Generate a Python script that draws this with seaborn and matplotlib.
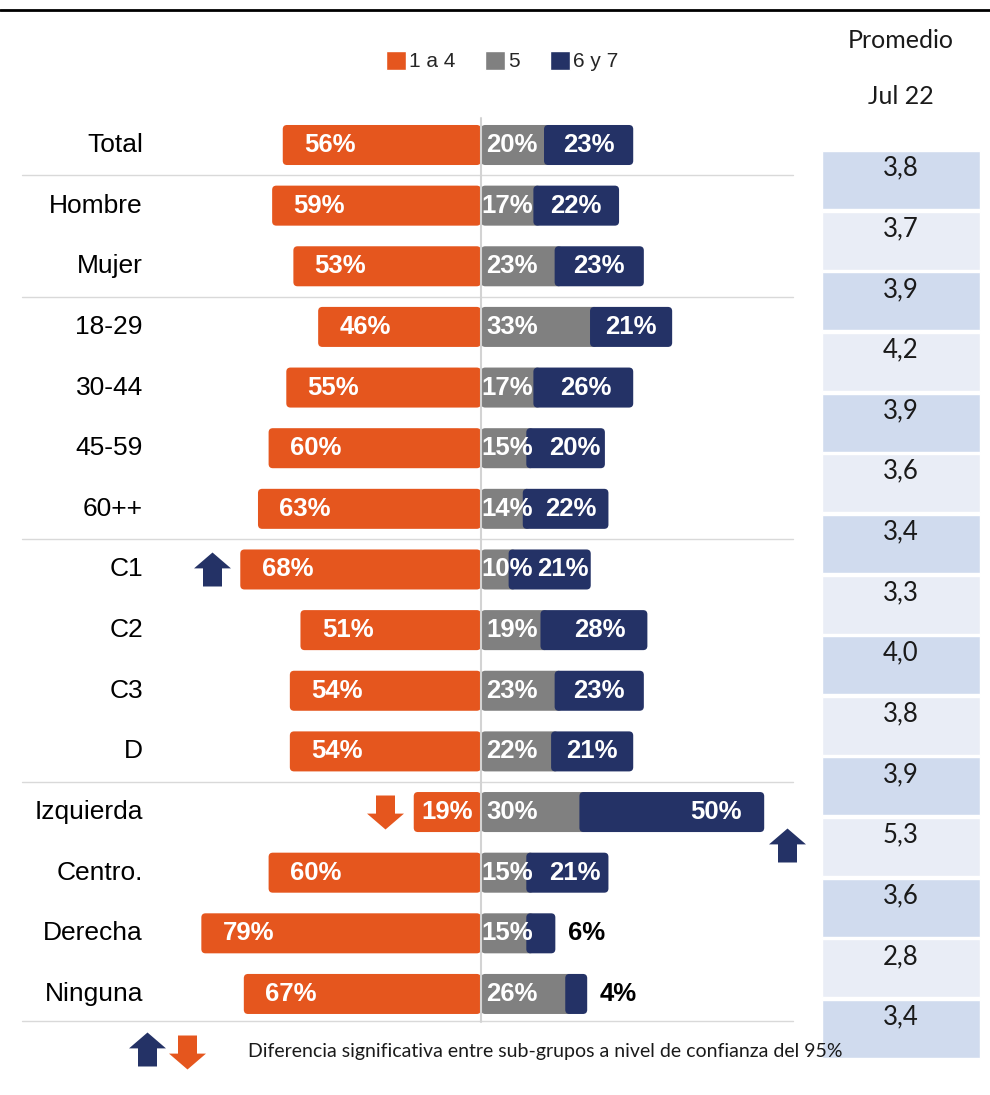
import matplotlib
matplotlib.use("Agg")
import matplotlib.pyplot as plt
from matplotlib.patches import FancyBboxPatch, Patch
from matplotlib.lines import Line2D
from matplotlib.path import Path
import pandas as pd
import seaborn as sns

# data
grupos = ["Total", "Hombre", "Mujer", "18-29", "30-44", "45-59", "60++",
          "C1", "C2", "C3", "D", "Izquierda", "Centro.", "Derecha", "Ninguna"]
nota_1a4 = [56, 59, 53, 46, 55, 60, 63, 68, 51, 54, 54, 19, 60, 79, 67]
nota_5 = [20, 17, 23, 33, 17, 15, 14, 10, 19, 23, 22, 30, 15, 15, 26]
nota_6y7 = [23, 22, 23, 21, 26, 20, 22, 21, 28, 23, 21, 50, 21, 6, 4]
promedio = ["3,8", "3,7", "3,9", "4,2", "3,9", "3,6", "3,4", "3,3",
            "4,0", "3,8", "3,9", "5,3", "3,6", "2,8", "3,4"]
# last row of each block (separator lines below them)
fin_bloque = [0, 2, 6, 10, 14]
# significance arrows: (grupo, segmento, direccion)
flechas = [("C1", "1a4", "up"), ("Izquierda", "1a4", "down"), ("Izquierda", "6y7", "up")]

NARANJA = "#E5561E"
GRIS = "#808080"
AZUL = "#243266"

df = pd.DataFrame({"grupo": grupos,
                   "neg": [-v for v in nota_1a4],
                   "cinco": nota_5,
                   "acum": [a + b for a, b in zip(nota_5, nota_6y7)]})

sns.set_style("white")
plt.rcParams["font.family"] = ["Liberation Sans", "DejaVu Sans"]

W, H = 990, 1095
fig = plt.figure(figsize=(W / 100, H / 100), dpi=100)
ax = fig.add_axes([0, 0, 1, 1])

PXX = 3.54      # px per percent point
PXY = 60.64     # px per row
X0, Y0 = 481, 145
n = len(grupos)

sns.barplot(data=df, y="grupo", x="cinco", color=GRIS, width=0.66, orient="h",
            saturation=1, ax=ax)
sns.barplot(data=df, y="grupo", x="acum", color=AZUL, width=0.66, orient="h",
            saturation=1, ax=ax)
sns.barplot(data=df, y="grupo", x="neg", color=NARANJA, width=0.66, orient="h",
            saturation=1, ax=ax)

ax.set_xlim(-X0 / PXX, (W - X0) / PXX)
ax.set_ylim((H - Y0) / PXY, -Y0 / PXY)
ax.axis("off")

# round the bar corners; navy segments start just over the grey ones
old = list(ax.patches)
for k, p in enumerate(old):
    x, y, w, h = p.get_x(), p.get_y(), p.get_width(), p.get_height()
    x0, x1 = min(x, x + w), max(x, x + w)
    if n <= k < 2 * n:
        g = old[k - n]
        x0 = g.get_x() + g.get_width() - 2.2
    fb = FancyBboxPatch((x0, y), x1 - x0, h,
                        boxstyle="round,pad=0,rounding_size=1.2",
                        mutation_aspect=PXX / PXY,
                        facecolor=p.get_facecolor(), edgecolor="none",
                        zorder=2 + k // n * 0.01)
    p.remove()
    ax.add_patch(fb)

lab = dict(color="white", fontsize=18.5, fontweight="bold", va="center")
for i, g in enumerate(grupos):
    v1, v5, v6 = nota_1a4[i], nota_5[i], nota_6y7[i]
    ax.text(-95.5, i, g, ha="right", va="center", fontsize=19, color="black")
    if v1 >= 30:
        ax.text(-v1 + 6, i, f"{v1}%", ha="left", **lab)
    else:
        ax.text(-v1 / 2, i, f"{v1}%", ha="center", **lab)
    ax.text(1.5 if v5 >= 19 else 0.2, i, f"{v5}%", ha="left", zorder=5, **lab)
    if v6 >= 10:
        if v5 <= 12:
            piso = v5 + 13
        elif v5 <= 15:
            piso = v5 + 11.5
        else:
            piso = 0
        xc = max((v5 - 2.2 + v5 + v6) / 2, v5 + v6 - 13.5, piso)
        ax.text(xc, i, f"{v6}%", ha="center", zorder=6, **lab)
    else:
        ax.text(v5 + v6 + 3.5, i, f"{v6}%", ha="left", va="center",
                fontsize=18.5, fontweight="bold", color="black")

# separators and zero line
for r in fin_bloque:
    yy = r + 0.5 if r < n - 1 else r + 0.44
    ax.plot([-129.7, 88.1], [yy, yy], color="#d9d9d9", lw=1, zorder=1)
ax.plot([0, 0], [-0.44, 14.46], color="#d3d3d3", lw=1.5, zorder=4)

# arrows
def arrow_marker(up=True):
    s = 1 if up else -1
    verts = [(-0.257, -0.46 * s), (0.257, -0.46 * s), (0.257, 0.03 * s), (0.5, 0.03 * s),
             (0, 0.46 * s), (-0.5, 0.03 * s), (-0.257, 0.03 * s), (-0.257, -0.46 * s)]
    return Path(verts, closed=True)

for g, seg, d in flechas:
    i = grupos.index(g)
    col = AZUL if d == "up" else NARANJA
    if seg == "1a4":
        x, y = -nota_1a4[i] - 8, i
    else:
        x, y = nota_5[i] + nota_6y7[i] + 6.5, i + 0.55
    ax.plot([x], [y], marker=arrow_marker(d == "up"), markersize=26.6,
            color=col, markeredgewidth=0, linestyle="none", zorder=6)

# promedio column
cx0 = (822 - X0) / PXX
cw = (980 - 822) / PXX
for i, v in enumerate(promedio):
    ax.barh(i + 0.578, cw, left=cx0, height=0.956,
            color="#D0DBEE" if i % 2 == 0 else "#E9EDF6", zorder=1)
    ax.text(cx0 + cw / 2, i + 0.38, v, ha="center", va="center",
            fontsize=18.5, family="Lato", color="#1a1a1a")

fig.text(901 / W, 1 - 41 / H, "Promedio", ha="center", va="center",
         fontsize=18, family="Lato", color="#1a1a1a")
fig.text(901 / W, 1 - 97 / H, "Jul 22", ha="center", va="center",
         fontsize=18, family="Lato", color="#1a1a1a")

# top rule
fig.add_artist(Line2D([0, 1], [1 - 10 / H, 1 - 10 / H], color="black", lw=2))

# legend
handles = [Patch(facecolor=NARANJA, label="1 a 4"),
           Patch(facecolor=GRIS, label="5"),
           Patch(facecolor=AZUL, label="6 y 7")]
fig.legend(handles=handles, loc="center", bbox_to_anchor=(502 / W, 1 - 61 / H),
           ncol=3, frameon=False, fontsize=15, handlelength=0.95, handleheight=1.05,
           handletextpad=0.15, columnspacing=1.45)

# footnote
ax_f = fig.add_axes([0, 0, 1, 1], facecolor="none")
ax_f.set_xlim(0, W)
ax_f.set_ylim(H, 0)
ax_f.axis("off")
ax_f.plot([147], [1049], marker=arrow_marker(True), markersize=26.6, color=AZUL,
          markeredgewidth=0, linestyle="none")
ax_f.plot([187], [1052], marker=arrow_marker(False), markersize=26.6, color=NARANJA,
          markeredgewidth=0, linestyle="none")
fig.text(248 / W, 1 - 1052 / H, "Diferencia significativa entre sub-grupos a nivel de confianza del 95%",
         ha="left", va="center", fontsize=14, family="Lato", color="#1a1a1a")

fig.savefig("out.png", dpi=100)
